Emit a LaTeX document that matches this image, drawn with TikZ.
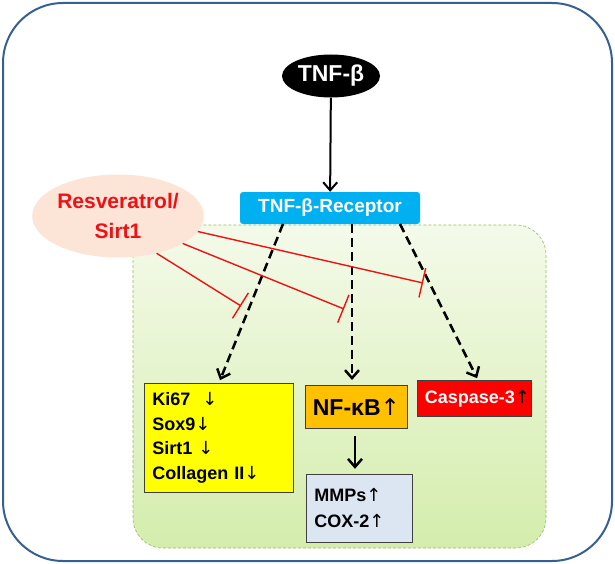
\documentclass[tikz,border=0pt]{standalone}
\usepackage{fontspec}
\setmainfont{Liberation Sans}
\newfontfamily\arrowfont{DejaVu Sans}
\usepackage{tikz}
\usetikzlibrary{arrows,arrows.meta,shapes,positioning}
\usepackage{xcolor}
\definecolor{rsnavy}{RGB}{55,96,146}
\definecolor{rscyan}{RGB}{0,176,240}
\definecolor{rspeach}{RGB}{252,228,214}
\definecolor{rsred}{RGB}{238,18,22}
\definecolor{rsorange}{RGB}{255,192,0}
\definecolor{rsyellow}{RGB}{255,255,0}
\definecolor{rsgrey}{RGB}{220,230,242}
\definecolor{rsedge}{RGB}{155,187,89}
\definecolor{rsgreentop}{RGB}{244,250,234}
\definecolor{rsgreenbot}{RGB}{212,237,172}
\newcommand{\dn}{{\arrowfont\mdseries↓}}
\newcommand{\up}{{\arrowfont\mdseries↑}}
\tikzstyle{arrow} = [line width=2pt,->,>={Straight Barb[length=8pt,width=14pt]},color=black]
\tikzstyle{dasharrow} = [arrow, line width=2.5pt, dash pattern=on 9pt off 5pt]
\tikzstyle{inhibit} = [line width=1.4pt, color=rsred, -{Bar[width=30pt]}]
\tikzstyle{ligand} = [ellipse, fill=black, text=white, minimum width=98pt, minimum height=43pt, inner sep=0pt, font=\fontsize{23}{26}\selectfont\bfseries]
\tikzstyle{receptor} = [rectangle, rounded corners=3pt, fill=rscyan, text=white, minimum width=180pt, minimum height=32pt, inner sep=0pt, font=\fontsize{19}{22}\selectfont\bfseries]
\tikzstyle{drug} = [ellipse, fill=rspeach, text=rsred, minimum width=167pt, minimum height=83pt, inner sep=0pt, align=center, font=\fontsize{21}{30}\selectfont\bfseries]
\tikzstyle{effect} = [rectangle, draw=black!75, line width=0.8pt, inner sep=0pt, font=\fontsize{18}{24.5}\selectfont\bfseries]

\begin{document}
\begin{tikzpicture}[x=1pt,y=-1pt]
\useasboundingbox (0,0) rectangle (615,564);
% Frame and cell
\draw[rsnavy, line width=2pt, rounded corners=60pt] (3,3) rectangle (612,561);
\draw[rsedge, densely dashed, line width=0.6pt, rounded corners=30pt, top color=rsgreentop, bottom color=rsgreenbot] (133,225) rectangle (546,548);

% Signalling nodes
\node (tnf) [ligand] at (331,76) {TNF-β};
\node (rec) [receptor] at (330,208) {TNF-β-Receptor};
\node (res) [drug] at (118,216) {Resveratrol/\\Sirt1};

% Effect boxes
\node (prolif) [effect, fill=rsyellow, anchor=north west, minimum width=149pt, minimum height=109pt, text width=133pt, align=left] at (144,383) {Ki67\ \ \dn\\Sox9\dn\\Sirt1\ \dn\\Collagen II\dn};
\node (nfkb) [effect, fill=rsorange, anchor=north west, minimum width=102pt, minimum height=43pt, font=\fontsize{23}{26}\selectfont\bfseries] at (305,385) {NF-κB\up};
\node (mmps) [effect, fill=rsgrey, below right=45pt and 1pt of nfkb.south west, minimum width=106pt, minimum height=68pt, text width=90pt, align=left, font=\fontsize{18}{26}\selectfont\bfseries] {MMPs\up\\COX-2\up};
\node (casp) [effect, fill=red, text=white, anchor=north west, minimum width=114pt, minimum height=36pt] at (417,380) {\hspace*{6pt}Caspase-3\textcolor{black}{\up}};

% Receptor outputs
\coordinate (r1) at (283,224);
\coordinate (r2) at (352,224);
\coordinate (r3) at (400,224);
\draw[dasharrow, shorten >=3pt] (r1) -- (prolif.north);
\draw[dasharrow, shorten >=5pt] (r2) -- (r2 |- nfkb.north);
\draw[dasharrow, shorten >=2pt] (r3) -- (478,380);
\draw[arrow] (tnf) -- (rec);
\draw[arrow, line width=2.5pt, shorten <=7pt, shorten >=5pt] (nfkb.south -| 355,0) -- (mmps.north -| 355,0);

% Inhibition
\coordinate (i1) at (241,306);
\coordinate (i2) at (344,309);
\coordinate (i3) at (423,283);
\draw[inhibit] (res.-44) -- (i1);
\draw[inhibit] (res.-23) -- (i2);
\draw[inhibit] (res.-11) -- (i3);
\end{tikzpicture}
\end{document}
